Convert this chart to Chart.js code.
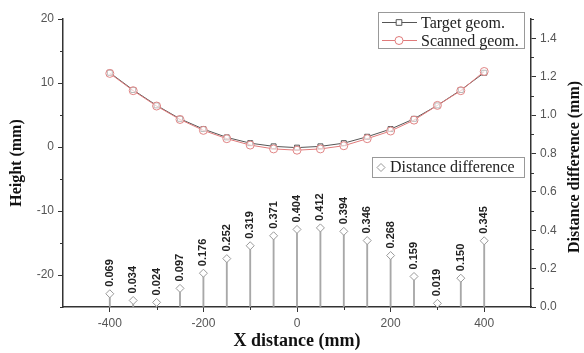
<!DOCTYPE html>
<html>
<head>
<meta charset="utf-8">
<script src="https://cdn.jsdelivr.net/npm/chart.js@4.4.1/dist/chart.umd.min.js"></script>
<style>
  html, body { margin: 0; padding: 0; background: #fff; }
  #wrap { width: 584px; height: 353px; }
</style>
</head>
<body>
<div id="wrap"><canvas id="chart" width="584" height="353"></canvas></div>
<script>
// x positions along the part (mm)
const xPositions = [-400, -350, -300, -250, -200, -150, -100, -50, 0, 50, 100, 150, 200, 250, 300, 350, 400];
// heights (mm), left axis
const targetHeight = [11.6, 8.9, 6.5, 4.4, 2.8, 1.5, 0.6, 0.1, -0.1, 0.1, 0.6, 1.6, 2.8, 4.4, 6.5, 8.9, 11.6];
const scannedHeight = [11.5, 8.8, 6.4, 4.3, 2.6, 1.3, 0.3, -0.3, -0.5, -0.3, 0.2, 1.3, 2.5, 4.2, 6.5, 8.8, 11.8];
// distance difference (mm), right axis
const distanceDiff = [0.069, 0.034, 0.024, 0.097, 0.176, 0.252, 0.319, 0.371, 0.404, 0.412, 0.394, 0.346, 0.268, 0.159, 0.019, 0.150, 0.345];

// ticks
const xTicks = [-400, -200, 0, 200, 400];
const xMinorTicks = [-300, -100, 100, 300];
const heightTicks = [-20, -10, 0, 10, 20];
const heightMinorTicks = [-25, -15, -5, 5, 15];
const diffTicks = [0, 0.2, 0.4, 0.6, 0.8, 1.0, 1.2, 1.4];
const diffMinorTicks = [0.1, 0.3, 0.5, 0.7, 0.9, 1.1, 1.3, 1.5];

const SERIF = '"Liberation Serif", "Times New Roman", serif';
const SANS = '"Liberation Sans", Arial, sans-serif';
const AXIS = '#333';

const pts = (ys) => xPositions.map((x, i) => ({ x: x, y: ys[i] }));

// value labels, minor ticks, right title and the two legend boxes
const overlayPlugin = {
  id: 'overlay',
  afterDatasetsDraw(chart) {
    const ctx = chart.ctx;
    const meta = chart.getDatasetMeta(1);
    ctx.save();
    ctx.font = 'bold 11px ' + SANS;
    ctx.fillStyle = '#222';
    ctx.textAlign = 'left';
    ctx.textBaseline = 'middle';
    meta.data.forEach((pt, i) => {
      ctx.save();
      ctx.translate(pt.x, pt.y - 7);
      ctx.rotate(-Math.PI / 2);
      ctx.fillText(distanceDiff[i].toFixed(3), 0, 0);
      ctx.restore();
    });
    ctx.restore();
  },
  afterDraw(chart) {
    const ctx = chart.ctx;
    const { x, y, y2 } = chart.scales;
    const area = chart.chartArea;
    ctx.save();
    ctx.strokeStyle = AXIS;
    ctx.lineWidth = 1;
    ctx.beginPath();
    xMinorTicks.forEach(v => {
      const px = Math.round(x.getPixelForValue(v)) + 0.5;
      ctx.moveTo(px, area.bottom); ctx.lineTo(px, area.bottom + 3);
    });
    heightMinorTicks.forEach(v => {
      const py = Math.round(y.getPixelForValue(v)) + 0.5;
      ctx.moveTo(area.left, py); ctx.lineTo(area.left - 3, py);
    });
    diffMinorTicks.forEach(v => {
      const py = Math.round(y2.getPixelForValue(v)) + 0.5;
      ctx.moveTo(area.right, py); ctx.lineTo(area.right + 3, py);
    });
    ctx.stroke();

    // right axis title, reading bottom to top
    ctx.save();
    ctx.translate(575, (area.top + area.bottom) / 2 + 4);
    ctx.rotate(-Math.PI / 2);
    ctx.font = 'bold 16px ' + SERIF;
    ctx.fillStyle = '#111';
    ctx.textAlign = 'center';
    ctx.textBaseline = 'middle';
    ctx.fillText('Distance difference (mm)', 0, 0);
    ctx.restore();

    // legend boxes
    ctx.fillStyle = '#fff';
    ctx.strokeStyle = '#999';
    ctx.lineWidth = 1;
    ctx.fillRect(378.5, 12.5, 146, 36);
    ctx.strokeRect(378.5, 12.5, 146, 36);
    ctx.fillRect(372.5, 157.5, 152, 20);
    ctx.strokeRect(372.5, 157.5, 152, 20);

    const entry = (yy, color, style, label) => {
      ctx.strokeStyle = color;
      ctx.lineWidth = 1;
      ctx.beginPath();
      ctx.moveTo(382, yy); ctx.lineTo(417, yy);
      ctx.stroke();
      ctx.fillStyle = '#fff';
      Chart.helpers.drawPoint(ctx, { pointStyle: style, radius: 4, rotation: 0, borderWidth: 1 }, 399, yy);
      ctx.fillStyle = '#222';
      ctx.font = '16px ' + SERIF;
      ctx.textAlign = 'left';
      ctx.textBaseline = 'middle';
      ctx.fillText(label, 421, yy + 1);
    };
    entry(22.5, '#555', 'rect', 'Target geom.');
    entry(40.5, '#e07a7a', 'circle', 'Scanned geom.');

    ctx.strokeStyle = '#999';
    ctx.fillStyle = '#fff';
    Chart.helpers.drawPoint(ctx, { pointStyle: 'rectRot', radius: 4, rotation: 0, borderWidth: 1 }, 381, 167.5);
    ctx.fillStyle = '#222';
    ctx.font = '16px ' + SERIF;
    ctx.textAlign = 'left';
    ctx.textBaseline = 'middle';
    ctx.fillText('Distance difference', 390, 168);
    ctx.restore();
  }
};

const axisGrid = { drawOnChartArea: false, drawTicks: true, tickLength: 5, tickColor: AXIS, tickWidth: 1 };
const axisBorder = { display: true, color: AXIS, width: 1.5 };
const tickFont = { family: SANS, size: 12 };

new Chart(document.getElementById('chart'), {
  type: 'line',
  data: {
    datasets: [
      {
        type: 'bar',
        label: 'stems',
        data: pts(distanceDiff),
        yAxisID: 'y2',
        backgroundColor: '#a8a8a8',
        barThickness: 1.2,
        order: 4
      },
      {
        type: 'line',
        label: 'Distance difference',
        data: pts(distanceDiff),
        yAxisID: 'y2',
        showLine: false,
        pointStyle: 'rectRot',
        pointRadius: 4,
        pointBorderWidth: 1,
        pointBorderColor: '#999',
        pointBackgroundColor: '#fff',
        order: 3
      },
      {
        label: 'Target geom.',
        data: pts(targetHeight),
        yAxisID: 'y',
        borderColor: '#555',
        borderWidth: 1,
        pointStyle: 'rect',
        pointRadius: 3.5,
        pointBorderWidth: 1,
        pointBorderColor: '#555',
        pointBackgroundColor: '#fff',
        tension: 0,
        order: 2
      },
      {
        label: 'Scanned geom.',
        data: pts(scannedHeight),
        yAxisID: 'y',
        borderColor: '#e07a7a',
        borderWidth: 1,
        pointStyle: 'circle',
        pointRadius: 4,
        pointBorderWidth: 1,
        pointBorderColor: '#e08585',
        pointBackgroundColor: 'rgba(255,255,255,0.6)',
        tension: 0,
        order: 1
      }
    ]
  },
  options: {
    responsive: false,
    animation: false,
    layout: { padding: { top: 19, left: 0, right: 0, bottom: 0 } },
    plugins: {
      legend: { display: false },
      tooltip: { enabled: false }
    },
    scales: {
      x: {
        type: 'linear',
        position: 'bottom',
        min: -500,
        max: 500,
        offset: false,
        grid: Object.assign({ offset: false }, axisGrid),
        border: axisBorder,
        afterBuildTicks: s => { s.ticks = xTicks.map(v => ({ value: v })); },
        afterFit: s => { s.height = 46; },
        ticks: { color: '#555', font: tickFont, padding: 4, maxRotation: 0 },
        title: {
          display: true,
          text: 'X distance (mm)',
          color: '#111',
          font: { family: SERIF, size: 18, weight: 'bold' },
          padding: { top: 0, bottom: 1 }
        }
      },
      y: {
        type: 'linear',
        position: 'left',
        min: -25,
        max: 20,
        grid: axisGrid,
        border: axisBorder,
        afterBuildTicks: s => { s.ticks = heightTicks.map(v => ({ value: v })); },
        afterFit: s => { s.width = 63; },
        ticks: { color: '#555', font: tickFont, padding: 4 },
        title: {
          display: true,
          text: 'Height (mm)',
          color: '#111',
          font: { family: SERIF, size: 16, weight: 'bold' },
          padding: { top: 7, bottom: 0 }
        }
      },
      y2: {
        type: 'linear',
        position: 'right',
        min: 0,
        max: 1.5,
        grid: axisGrid,
        border: axisBorder,
        afterBuildTicks: s => { s.ticks = diffTicks.map(v => ({ value: v })); },
        afterFit: s => { s.width = 53; },
        ticks: { color: '#555', font: tickFont, padding: 4, callback: v => v.toFixed(1) }
      }
    }
  },
  plugins: [overlayPlugin]
});
</script>
</body>
</html>
